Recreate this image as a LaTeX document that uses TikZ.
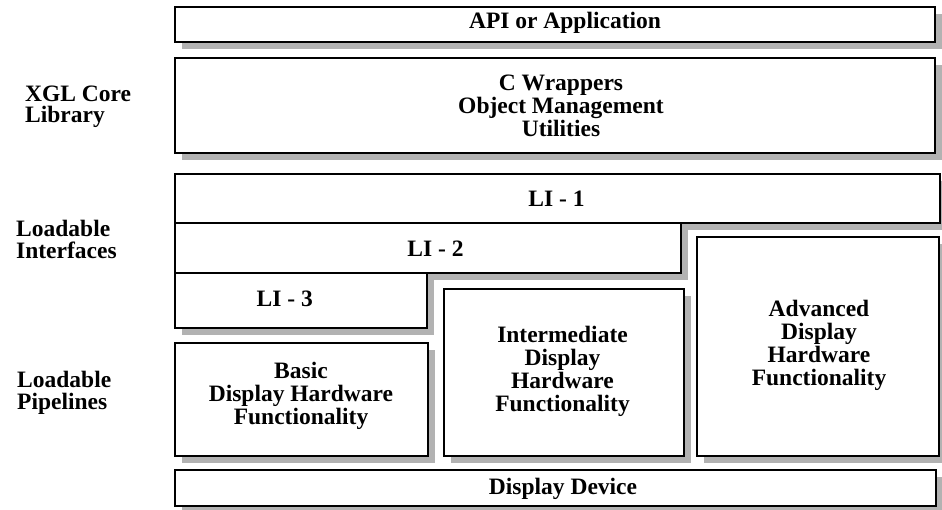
\documentclass[tikz,border=0pt]{standalone}
\usepackage{fontspec}
\setmainfont{Liberation Serif}
\usetikzlibrary{shadows}
\tikzset{
  box/.style={draw, line width=1.1pt, fill=white, rectangle, inner sep=0pt,
    drop shadow={shadow xshift=7pt, shadow yshift=-7pt, fill=black!30, opacity=1, draw=none}},
  txt/.style={font=\bfseries\fontsize{23.5}{23}\selectfont, align=center, inner sep=0pt},
  side/.style={font=\bfseries\fontsize{23.5}{21.5}\selectfont, align=left, anchor=west, inner sep=0pt}
}
\begin{document}
\begin{tikzpicture}[x=1pt,y=-1pt]
\useasboundingbox (0,0) rectangle (942,510);
% boxes
\node[box, minimum width=760pt, minimum height=35pt] (api) at (555,24.5) {};
\node[box, minimum width=760pt, minimum height=95pt] (core) at (555,105.5) {};
\node[box, minimum width=765pt, minimum height=49pt] (li1) at (557.5,198.5) {};
\node[box, minimum width=506pt, minimum height=50pt] (li2) at (428,248) {};
\node[box, minimum width=252pt, minimum height=55pt] (li3) at (301,300.5) {};
\node[box, minimum width=253pt, minimum height=113pt] (basic) at (301.5,399.5) {};
\node[box, minimum width=240pt, minimum height=167pt] (inter) at (564,372.5) {};
\node[box, minimum width=242pt, minimum height=219pt] (adv) at (818,346.5) {};
\node[box, minimum width=761pt, minimum height=36pt] (dev) at (555.5,488) {};
% box texts
\node[txt] (tapi) at (565,22.8) {API or Application};
\node[txt] (tcore) at (561,106.3) {C Wrappers\\Object Management\\Utilities};
\node[txt] (tli1) at (556.5,199) {LI - 1};
\node[txt] (tli2) at (435.5,249) {LI - 2};
\node[txt] (tli3) at (284.7,298.5) {LI - 3};
\node[txt] (tbasic) at (301,396.1) {Basic\\Display Hardware\\Functionality};
\node[txt] (tinter) at (562.5,371.7) {Intermediate\\Display\\Hardware\\Functionality};
\node[txt] (tadv) at (819,345) {Advanced\\Display\\Hardware\\Functionality};
\node[txt] (tdev) at (563,488.8) {Display Device};
% side labels
\node[side] (lcore) at (25,107) {XGL Core\\Library};
\node[side] (lli) at (16,239.5) {Loadable\\Interfaces};
\node[side] (lpipe) at (17,392.8) {Loadable\\Pipelines};
\end{tikzpicture}
\end{document}
